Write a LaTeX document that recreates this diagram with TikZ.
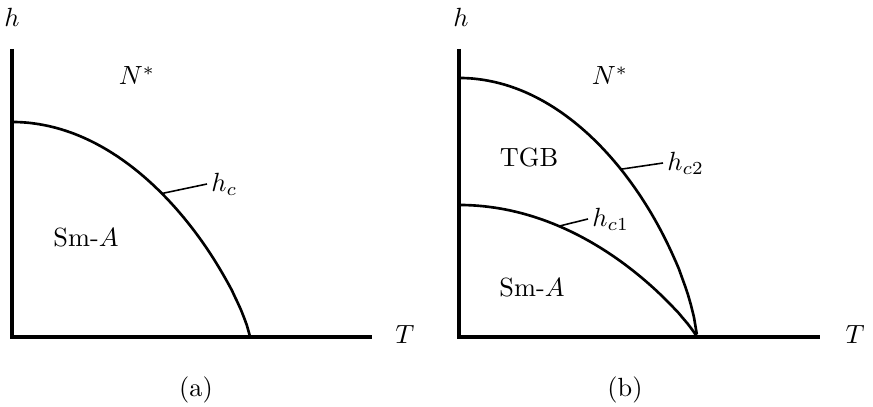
\documentclass[tikz,border=0pt]{standalone}
\usetikzlibrary{positioning}
\tikzset{
    % Axis lines
    axis/.style={line width=1.2pt, line join=miter},
    % Phase boundary curve
    boundary/.style={line width=1pt},
    % Short line from a boundary to its label
    leader/.style={line width=0.6pt},
    % Phase names and axis names
    phase/.style={anchor=base, inner sep=0pt},
    % Boundary label
    bndlabel/.style={anchor=west, inner sep=1.5pt},
    % Panel caption
    caption/.style={anchor=center}
}

\begin{document}
\begin{tikzpicture}[x=0.38pt, y=-0.38pt,
    declare function={bnd(\t,\p)=max(1-\t*\t,0.00001)^\p;}]
    \useasboundingbox (0,0) rectangle (873,407);

    % Panel (a)
    \coordinate (atop) at (12,49);
    \coordinate (aorig) at (12,337);
    \coordinate (aend) at (372,337);
    \draw [axis] (atop) -- (aorig) -- (aend);
    \node (ah) [phase] at (12,27) {$h$};
    \node (aT) [phase] at (405,344) {$T$};

    \draw [boundary] plot [domain=0:1, samples=80] ({12+238*\x},{337-215*bnd(\x,0.8)});
    \coordinate (hcA) at ({12+238*0.63},{337-215*bnd(0.63,0.8)});
    \node (hclab) [bndlabel] at (207,184) {$h_c$};
    \draw [leader] (hcA) -- (hclab.west);

    \node (aN) [phase] at (137,85) {$N^{*}$};
    \node (aSm) [phase] at (86,247) {Sm-$A$};
    \node (acap) [caption] at (196,390) {(a)};

    % Panel (b)
    \coordinate (btop) at (459,49);
    \coordinate (borig) at (459,337);
    \coordinate (bend) at (820,337);
    \draw [axis] (btop) -- (borig) -- (bend);
    \node (bh) [phase] at (461,27) {$h$};
    \node (bT) [phase] at (855,344) {$T$};

    \draw [boundary] plot [domain=0:1, samples=80] ({459+238*\x},{337-259*bnd(\x,0.7)});
    \draw [boundary] plot [domain=0:1, samples=80] ({459+238*\x},{337-132*bnd(\x,0.9)});
    \coordinate (hctwo) at ({459+238*0.68},{337-259*bnd(0.68,0.7)});
    \coordinate (hcone) at ({459+238*0.42},{337-132*bnd(0.42,0.9)});
    \node (hctwolab) [bndlabel] at (663,163) {$h_{c2}$};
    \node (hconelab) [bndlabel] at (588,219) {$h_{c1}$};
    \draw [leader] (hctwo) -- (hctwolab.west);
    \draw [leader] (hcone) -- (hconelab.west);

    \node (bN) [phase] at (610,85) {$N^{*}$};
    \node (bTGB) [phase] at (529,167) {TGB};
    \node (bSm) [phase] at (532,297) {Sm-$A$};
    \node (bcap) [caption] at (625,390) {(b)};
\end{tikzpicture}
\end{document}
